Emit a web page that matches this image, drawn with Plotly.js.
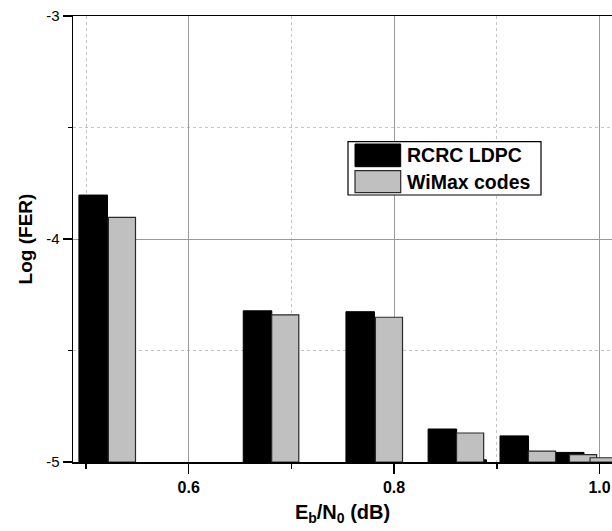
<!DOCTYPE html>
<html>
<head>
<meta charset="utf-8">
<script src="https://cdn.plot.ly/plotly-3.0.1.min.js"></script>
<style>html,body{margin:0;padding:0;background:#fff;}#chart{width:612px;height:531px;}</style>
</head>
<body>
<div id="chart"></div>
<script>
// Eb/N0 positions (dB) and Log(FER) values
const ebn0RCRC = [0.507, 0.667, 0.767, 0.847, 0.876, 0.917, 0.971];
const ferRCRC  = [-3.803, -4.322, -4.326, -4.852, -4.990, -4.883, -4.957];
const ebn0WiMax = [0.535, 0.694, 0.795, 0.874, 0.944, 0.984, 1.004];
const ferWiMax  = [-3.903, -4.340, -4.351, -4.870, -4.951, -4.967, -4.981];
const seriesNames = ["RCRC LDPC", "WiMax codes"];
const yTickVals = [-5, -4, -3];
const yTickText = ["-5", "-4", "-3"];
const xTickVals = [0.6, 0.8, 1.0];
const xTickText = ["0.6", "0.8", "1.0"];

const yBase = -5;
const FONT = "Liberation Sans, Arial, sans-serif";

const traces = [
  {
    type: "bar", name: seriesNames[0], x: ebn0RCRC,
    y: ferRCRC.map(v => v - yBase), base: yBase, width: 0.0278,
    marker: {color: "#000000", line: {color: "#000000", width: 1}},
    showlegend: false
  },
  {
    type: "bar", name: seriesNames[1], x: ebn0WiMax,
    y: ferWiMax.map(v => v - yBase), base: yBase, width: 0.0264,
    marker: {color: "#c0c0c0", line: {color: "#2a2a2a", width: 1.2}},
    showlegend: false
  }
];

// pixel -> paper helpers for the hand-made legend box
const L = 73, R = 612, T = 16, B = 462;
const px = x => (x - L) / (R - L);
const py = y => (B - y) / (B - T);

const shapes = [
  {type: "rect", xref: "paper", yref: "paper", x0: px(348), x1: px(541), y0: py(195), y1: py(141.7),
   line: {color: "#000", width: 1.2}, fillcolor: "#fff", layer: "above"},
  {type: "rect", xref: "paper", yref: "paper", x0: px(355), x1: px(400.7), y0: py(166.7), y1: py(144),
   line: {color: "#000", width: 1}, fillcolor: "#000", layer: "above"},
  {type: "rect", xref: "paper", yref: "paper", x0: px(355), x1: px(400.7), y0: py(192.7), y1: py(170.7),
   line: {color: "#2a2a2a", width: 1.2}, fillcolor: "#c0c0c0", layer: "above"}
];

const annotations = [
  {xref: "paper", yref: "paper", x: px(405), y: py(155.5), xanchor: "left", yanchor: "middle",
   text: "<b>" + seriesNames[0] + "</b>", showarrow: false, font: {family: FONT, size: 19.5, color: "#000"}},
  {xref: "paper", yref: "paper", x: px(405), y: py(181.5), xanchor: "left", yanchor: "middle",
   text: "<b>" + seriesNames[1] + "</b>", showarrow: false, font: {family: FONT, size: 19.5, color: "#000"}}
];

const layout = {
  width: 612, height: 531,
  margin: {l: L, r: 612 - R, t: T, b: 531 - B, pad: 0},
  paper_bgcolor: "#fff", plot_bgcolor: "#fff",
  barmode: "overlay",
  font: {family: FONT, color: "#000"},
  xaxis: {
    range: [0.48734, 1.01217], autorange: false,
    tickmode: "array", tickvals: xTickVals, ticktext: xTickText,
    ticks: "outside", ticklen: 10, tickwidth: 1.5, tickcolor: "#000",
    tickfont: {family: FONT, size: 16, color: "#000", weight: "bold"},
    showline: true, linecolor: "#000", linewidth: 1.5, mirror: true,
    showgrid: true, gridcolor: "#9a9a9a", gridwidth: 1,
    zeroline: false,
    minor: {tick0: 0.5, dtick: 0.1, ticks: "outside", ticklen: 5, tickwidth: 1.5, tickcolor: "#000",
            showgrid: true, gridcolor: "#c4c4c4", griddash: "3px,3px", gridwidth: 1},
    title: {text: "<b>E<sub>b</sub>/N<sub>0</sub> (dB)</b>", font: {family: FONT, size: 20, color: "#000"}, standoff: 10}
  },
  yaxis: {
    range: [-5, -3], autorange: false,
    tickmode: "array", tickvals: yTickVals, ticktext: yTickText,
    ticks: "outside", ticklen: 9, tickwidth: 1.5, tickcolor: "#000",
    tickfont: {family: FONT, size: 15, color: "#000"},
    showline: true, linecolor: "#000", linewidth: 1.5, mirror: false,
    showgrid: true, gridcolor: "#9a9a9a", gridwidth: 1,
    zeroline: false,
    minor: {tick0: -5, dtick: 0.5, ticks: "outside", ticklen: 4, tickwidth: 1.5, tickcolor: "#000",
            showgrid: true, gridcolor: "#c4c4c4", griddash: "3px,3px", gridwidth: 1},
    title: {text: "<b>Log (FER)</b>", font: {family: FONT, size: 19, color: "#000"}, standoff: 8}
  },
  shapes: shapes,
  annotations: annotations,
  showlegend: false
};

Plotly.newPlot("chart", traces, layout, {staticPlot: true, displayModeBar: false});
</script>
</body>
</html>
